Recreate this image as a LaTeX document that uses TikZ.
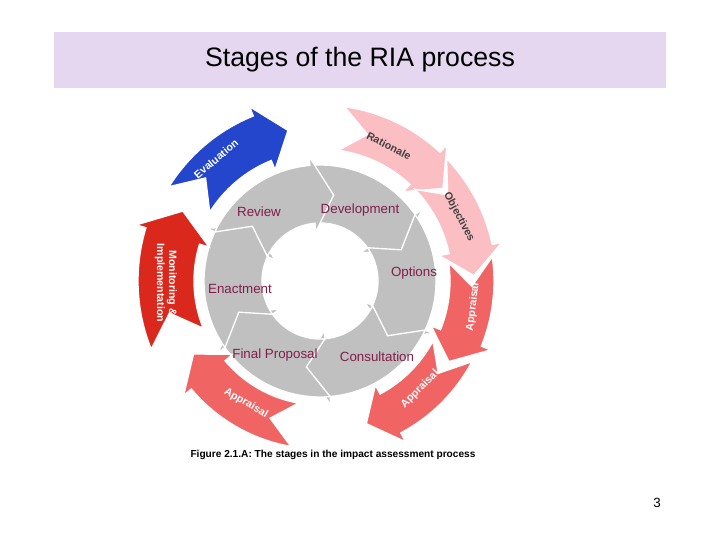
\documentclass[tikz,border=0pt]{standalone}
\usepackage{fontspec}
\setmainfont{Liberation Sans}
\definecolor{titlebg}{RGB}{229,215,240}
\definecolor{ringgray}{RGB}{192,192,192}
\definecolor{labelred}{RGB}{130,30,70}
\definecolor{evalblue}{RGB}{35,70,205}
\definecolor{monred}{RGB}{218,40,28}
\definecolor{pink}{RGB}{250,190,195}
\definecolor{apprred}{RGB}{240,100,100}
\newcommand\ringarrow[6]{%
  \filldraw ({#1}:{#3}) -- ({#1-#6}:{(#3+#4)/2}) -- ({#1}:{#4})
    arc[start angle=#1,end angle=#2,radius=#4] -- ({#2}:{#4+#5})
    -- ({#2-#6}:{(#3+#4)/2}) -- ({#2}:{#3-#5}) -- ({#2}:{#3})
    arc[start angle=#2,end angle=#1,radius=#3] -- cycle;}
\begin{document}
\begin{tikzpicture}[x=0.75pt,y=0.75pt,
    glabel/.style={text=labelred, font=\fontsize{10}{12}\selectfont},
    olabel/.style={text=white, font=\fontsize{8}{9}\selectfont\bfseries},
    plabel/.style={text=black!75, font=\fontsize{8}{9}\selectfont\bfseries}]
  \useasboundingbox (0,0) rectangle (720,540);
  \fill[titlebg] (54,452) rectangle (666,508);
  \node (title) at (360,480) {\fontsize{20}{24}\selectfont Stages of the RIA process};

  \begin{scope}[shift={(320,259)}, draw=white, line width=1pt]
    % gray ring
    \begin{scope}[fill=ringgray]
      \ringarrow{95}{35}{58}{116}{9}{14}
      \ringarrow{35}{-25}{58}{116}{9}{14}
      \ringarrow{-25}{-85}{58}{116}{9}{14}
      \ringarrow{-85}{-145}{58}{116}{9}{14}
      \ringarrow{-145}{-205}{58}{116}{9}{14}
      \ringarrow{155}{95}{58}{116}{9}{14}
    \end{scope}
    % outer arrows
    \begin{scope}[fill=evalblue]\ringarrow{148}{112}{130}{178}{10}{10}\end{scope}
    \begin{scope}[fill=monred]\ringarrow{202}{163}{126}{182}{10}{10}\end{scope}
    \begin{scope}[fill=pink]
      \ringarrow{82}{47}{132}{176}{10}{10}
      \ringarrow{44}{12}{132}{176}{10}{10}
    \end{scope}
    \begin{scope}[fill=apprred]
      \ringarrow{8}{-22}{130}{174}{10}{10}
      \ringarrow{-28}{-62}{128}{172}{10}{10}
      \ringarrow{-100}{-140}{124}{168}{10}{10}
    \end{scope}
  \end{scope}

  % ring labels
  \node[glabel] (review) at (259,328) {Review};
  \node[glabel] (development) at (360,330) {Development};
  \node[glabel] (options) at (414,267) {Options};
  \node[glabel] (enactment) at (240,251) {Enactment};
  \node[glabel] (finalproposal) at (275,185) {Final Proposal};
  \node[glabel] (consultation) at (377,183) {Consultation};

  % outer labels
  \node[olabel, rotate=40] (evaluation) at (216,381) {Evaluation};
  \node[olabel, rotate=-90, align=center, inner sep=1pt] (monitoring) at (166,257) {Monitoring \&\\Implementation};
  \node[plabel, rotate=-27] (rationale) at (389,394) {Rationale};
  \node[plabel, rotate=-62] (objectives) at (459,323) {Objectives};
  \node[olabel, rotate=83, inner sep=1pt] (appraisal1) at (473,233) {Appraisal};
  \node[olabel, rotate=45] (appraisal2) at (420,151) {Appraisal};
  \node[olabel, rotate=-30] (appraisal3) at (246,137) {Appraisal};

  \node (caption) at (333,85) {\fontsize{7.6}{9}\selectfont\bfseries Figure 2.1.A: The stages in the impact assessment process};
  \node (page) at (657,37) {\fontsize{10}{12}\selectfont 3};
\end{tikzpicture}
\end{document}
